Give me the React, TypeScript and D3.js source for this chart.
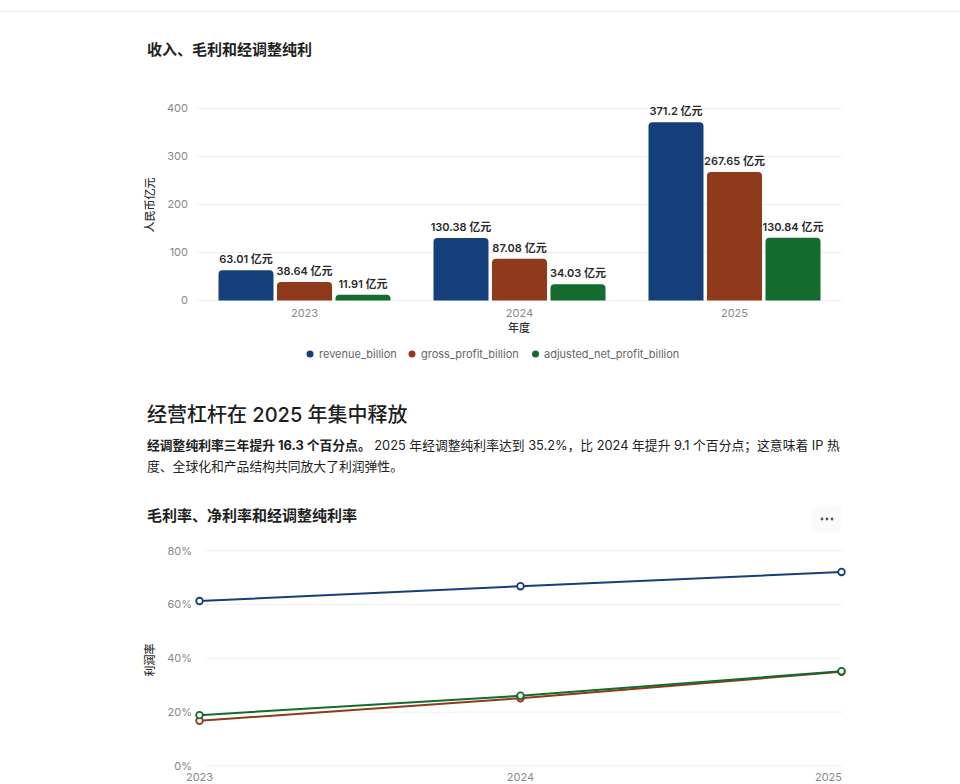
import React from "react";
import * as d3 from "d3";

const years = ["2023", "2024", "2025"];
const seriesKeys = ["revenue_billion", "gross_profit_billion", "adjusted_net_profit_billion"];
const revenue = [63.01, 130.38, 371.2];
const grossProfit = [38.64, 87.08, 267.65];
const adjNetProfit = [11.91, 34.03, 130.84];
const barTicks = [0, 100, 200, 300, 400];

const marginKeys = ["gross_margin", "net_margin", "adjusted_net_margin"];
const grossMargin = [61.3, 66.8, 72.1];
const netMargin = [16.8, 25.2, 35.0];
const adjNetMargin = [18.9, 26.1, 35.2];
const pctTicks = [0, 20, 40, 60, 80];

const colors = ["#153f7b", "#8f3a1a", "#136b2e"];
const FONT = "Inter, 'Noto Sans CJK SC', 'Noto Sans', sans-serif";

function topRoundedBar(x: number, y: number, w: number, h: number, r: number) {
  const rr = Math.min(r, h, w / 2);
  const p = d3.path();
  p.moveTo(x, y + h);
  p.lineTo(x, y + rr);
  p.arcTo(x, y, x + rr, y, rr);
  p.lineTo(x + w - rr, y);
  p.arcTo(x + w, y, x + w, y + rr, rr);
  p.lineTo(x + w, y + h);
  p.closePath();
  return p.toString();
}

export default function App() {
  const barSeries = [revenue, grossProfit, adjNetProfit];
  const lineSeries = [grossMargin, netMargin, adjNetMargin];

  const bx0 = d3.scaleBand().domain(years).range([197, 842]).paddingInner(0.2).paddingOuter(0.1);
  const bx1 = d3.scaleBand().domain(seriesKeys).range([0, bx0.bandwidth()]).paddingInner(0.06);
  const by = d3.scaleLinear().domain([0, 400]).range([300.5, 108.5]);

  const lx = d3.scalePoint().domain(years).range([199.5, 841.5]);
  const ly = d3.scaleLinear().domain([0, 80]).range([766, 550.7]);
  const line = d3.line<number>().x((_, i) => lx(years[i]) as number).y((d) => ly(d));

  const legendItems = [
    { key: seriesKeys[0], cx: 310, tx: 319 },
    { key: seriesKeys[1], cx: 412, tx: 421 },
    { key: seriesKeys[2], cx: 535.5, tx: 544 },
  ];

  return (
    <div style={{ position: "absolute", left: 0, top: 0, width: 960, height: 784, background: "#fff" }}>
      <svg width={960} height={784} style={{ display: "block", fontFamily: FONT }}>
        <rect x={0} y={0} width={960} height={784} fill="#fff" />
        <line x1={0} x2={960} y1={11.5} y2={11.5} stroke="#eeeeee" strokeWidth={1} />

        <text x={147} y={55} fontSize={15} fontWeight={600} fill="#222">收入、毛利和经调整纯利</text>

        {barTicks.map((t) => (
          <g key={"bt" + t}>
            <line x1={197} x2={842} y1={by(t)} y2={by(t)} stroke="#f0f0f0" strokeWidth={1} />
            <text x={188} y={by(t)} dy="0.35em" textAnchor="end" fontSize={11} fill="#888">{t}</text>
          </g>
        ))}
        <text transform={`translate(154,205) rotate(-90)`} textAnchor="middle" fontSize={11} fontWeight={500} fill="#333">人民币亿元</text>

        {years.map((yr, i) => (
          <g key={"g" + yr} transform={`translate(${bx0(yr)},0)`}>
            {seriesKeys.map((k, j) => {
              const v = barSeries[j][i];
              const x = bx1(k) as number;
              const w = bx1.bandwidth();
              const y = by(v);
              return (
                <g key={k}>
                  <path d={topRoundedBar(x, y, w, by(0) - y, 4)} fill={colors[j]} />
                  <text x={x + w / 2} y={y - 7} textAnchor="middle" fontSize={11} fontWeight={600} fill="#2a2a2a">
                    {`${v} 亿元`}
                  </text>
                </g>
              );
            })}
          </g>
        ))}

        {years.map((yr) => (
          <text key={"bx" + yr} x={(bx0(yr) as number) + bx0.bandwidth() / 2} y={313} dy="0.35em" textAnchor="middle" fontSize={11} fill="#888">{yr}</text>
        ))}
        <text x={519} y={328} dy="0.35em" textAnchor="middle" fontSize={11} fontWeight={500} fill="#333">年度</text>

        {legendItems.map((it, j) => (
          <g key={it.key}>
            <circle cx={it.cx} cy={354} r={3.5} fill={colors[j]} />
            <text x={it.tx} y={354} dy="0.35em" fontSize={11} fill="#666">{it.key}</text>
          </g>
        ))}

        <text x={147} y={422} fontSize={20} fontWeight={500} fill="#1f1f1f">经营杠杆在 2025 年集中释放</text>
        <text x={147} y={450} fontSize={12.8} fill="#222">
          <tspan fontWeight={700}>经调整纯利率三年提升 16.3 个百分点。</tspan>
          <tspan> 2025 年经调整纯利率达到 35.2%，比 2024 年提升 9.1 个百分点；这意味着 IP 热</tspan>
        </text>
        <text x={147} y={471} fontSize={12.8} fill="#222">度、全球化和产品结构共同放大了利润弹性。</text>

        <text x={147} y={521} fontSize={15} fontWeight={600} fill="#222">毛利率、净利率和经调整纯利率</text>
        <rect x={812} y={505} width={30} height={27} rx={6} fill="#fbfbfb" />
        {[-5, 0, 5].map((dx) => (
          <circle key={"dot" + dx} cx={827 + dx} cy={519} r={1.4} fill="#555" />
        ))}

        {pctTicks.map((t) => (
          <g key={"lt" + t}>
            <line x1={206} x2={842} y1={ly(t)} y2={ly(t)} stroke="#f0f0f0" strokeWidth={1} />
            <text x={192} y={ly(t)} dy="0.35em" textAnchor="end" fontSize={11} fill="#888">{`${t}%`}</text>
          </g>
        ))}
        <text transform={`translate(154,660) rotate(-90)`} textAnchor="middle" fontSize={11} fontWeight={500} fill="#333">利润率</text>

        {years.map((yr, i) => (
          <text
            key={"lx" + yr}
            x={i === years.length - 1 ? 842 : (lx(yr) as number)}
            y={777}
            dy="0.35em"
            textAnchor={i === years.length - 1 ? "end" : "middle"}
            fontSize={11}
            fill="#888"
          >
            {yr}
          </text>
        ))}

        {lineSeries.map((s, j) => (
          <g key={marginKeys[j]}>
            <path d={line(s) as string} fill="none" stroke={colors[j]} strokeWidth={2} />
            {s.map((v, i) => (
              <circle key={i} cx={lx(years[i]) as number} cy={ly(v)} r={3.3} fill="#fff" stroke={colors[j]} strokeWidth={1.8} />
            ))}
          </g>
        ))}
      </svg>
    </div>
  );
}
